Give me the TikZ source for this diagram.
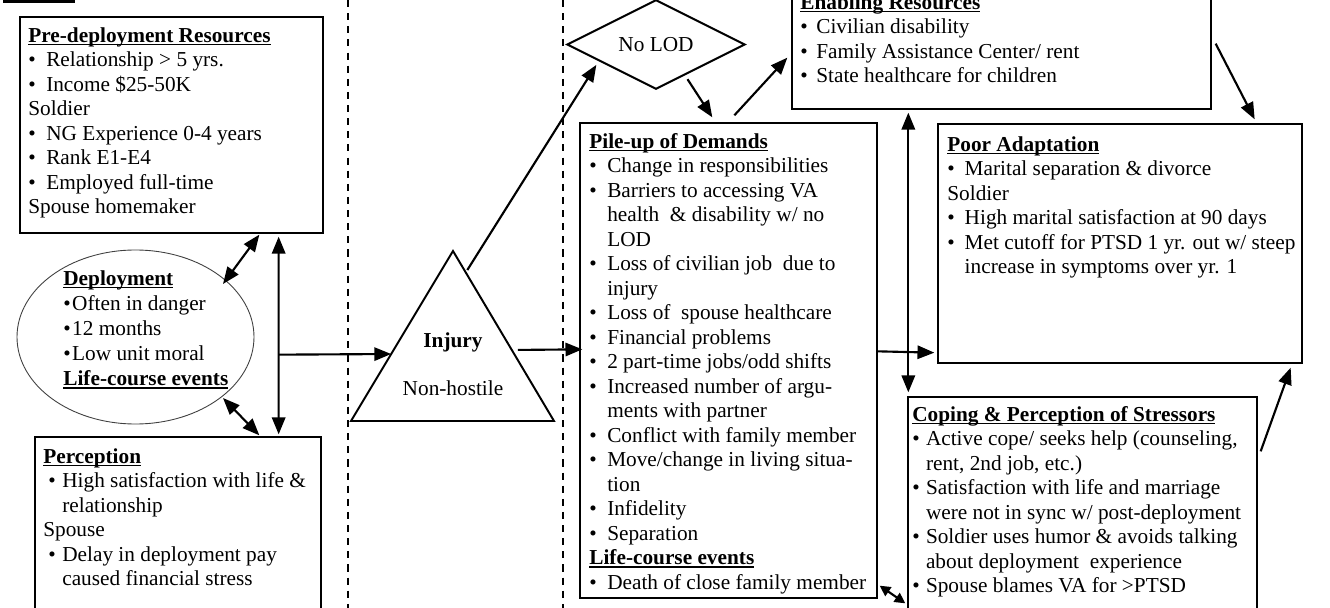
\documentclass[tikz,border=0pt]{standalone}
\usepackage{fontspec}
\setmainfont{Liberation Serif}
\usetikzlibrary{arrows.meta,shapes.geometric,fit,calc}
\newcommand\ttl[1]{\setbox0\hbox{\bfseries #1}\rlap{\rule[-1.7pt]{\wd0}{0.8pt}}\box0}
\newcommand\bul[1]{\makebox[#1][l]{\textbullet}}
\begin{document}
\begin{tikzpicture}[x=0.5637pt,y=-0.5637pt,
  box/.style={draw,line width=0.75pt,inner sep=0pt,fit={#1}},
  txt/.style={anchor=north west,inner sep=0pt,align=left,font=\fontsize{12pt}{13.8pt}\selectfont},
  lbl/.style={inner sep=0pt,font=\fontsize{12pt}{13.8pt}\selectfont},
  arr/.style={line width=1.2pt,-{Triangle[length=9.5pt,width=7.5pt]}},
  darr/.style={line width=1.2pt,{Triangle[length=9.5pt,width=7.5pt]}-{Triangle[length=9.5pt,width=7.5pt]}},
  sdarr/.style={line width=1.2pt,{Triangle[length=6pt,width=6pt]}-{Triangle[length=6pt,width=6pt]}},
  sep/.style={line width=0.8pt,dash pattern=on 4pt off 3.4pt}]
\useasboundingbox (0,0) rectangle (1330,608);
\clip (0,0) rectangle (1330,608);

% cut-off underline at top left
\draw[line width=1.5pt] (3,1.3) -- (75,1.3);

% dashed separators
\draw[sep] (348,0) -- (348,608);
\draw[sep] (563,0) -- (563,608);

% boxes
\node[box={(20,17) (323,233)}] (pre) {};
\node[box={(35,437) (321,625)}] (perc) {};
\node[box={(580,123) (877,598)}] (pile) {};
\node[box={(792,-15) (1211,109)}] (enab) {};
\node[box={(938,124) (1302,363)}] (poor) {};
\node[box={(908,397) (1257,625)}] (cope) {};
\node[draw=black!75,line width=0.5pt,ellipse,inner sep=0pt,minimum width={237*0.5637pt},minimum height={174*0.5637pt}] (dep) at (135.5,337) {};

% diamond
\node[draw,diamond,line width=1.1pt,inner sep=0pt,minimum width={178*0.5637pt},minimum height={89*0.5637pt},font=\fontsize{12pt}{13.8pt}\selectfont] (nolod) at (656,44.5) {No LOD};

% triangle
\coordinate (tA) at (453,251);
\coordinate (tL) at (351,421);
\coordinate (tR) at (554,421);
\draw[line width=1.1pt,line join=miter] (tA) -- (tL) -- (tR) -- cycle;
\node[lbl,anchor=base,font=\fontsize{12pt}{13.8pt}\selectfont\bfseries] (injT) at (453,347) {Injury};
\node[lbl,anchor=base] (nhT) at (453,395) {Non-hostile};

% texts
\node[txt] (preT) at (28,27) {\ttl{Pre-deployment Resources}\\
\bul{10.1pt}Relationship > 5 yrs.\\
\bul{10.1pt}Income \$25-50K\\
Soldier\\
\bul{10.1pt}NG Experience 0-4 years\\
\bul{10.1pt}Rank E1-E4\\
\bul{10.1pt}Employed full-time\\
Spouse homemaker};

\node[txt] (depT) at (63,270) {\ttl{Deployment}\\[0.4pt]
\bul{5pt}Often in danger\\[0.4pt]
\bul{5pt}12 months\\[0.4pt]
\bul{5pt}Low unit moral\\[0.4pt]
\ttl{Life-course events}};

\node[txt] (percT) at (43,448) {\ttl{Perception}\\
\hspace*{2.8pt}\bul{7.9pt}High satisfaction with life \&\\
\hspace*{10.7pt}relationship\\
Spouse\\
\hspace*{2.8pt}\bul{7.9pt}Delay in deployment pay\\
\hspace*{10.7pt}caused financial stress};

\node[txt] (pileT) at (589,133) {\ttl{Pile-up of Demands}\\
\bul{10.1pt}Change in responsibilities\\
\bul{10.1pt}Barriers to accessing VA\\
\hspace*{10.1pt}health\ \ \& disability w/ no\\
\hspace*{10.1pt}LOD\\
\bul{10.1pt}Loss of civilian job\ \ due to\\
\hspace*{10.1pt}injury\\
\bul{10.1pt}Loss of\ \ spouse healthcare\\
\bul{10.1pt}Financial problems\\
\bul{10.1pt}2 part-time jobs/odd shifts\\
\bul{10.1pt}Increased number of argu-\\
\hspace*{10.1pt}ments with partner\\
\bul{10.1pt}Conflict with family member\\
\bul{10.1pt}Move/change in living situa-\\
\hspace*{10.1pt}tion\\
\bul{10.1pt}Infidelity\\
\bul{10.1pt}Separation\\
\ttl{Life-course events}\\
\bul{10.1pt}Death of close family member};

\node[txt] (enabT) at (800,-6) {\ttl{Enabling Resources}\\
\bul{9pt}Civilian disability\\
\bul{9pt}Family Assistance Center/ rent\\
\bul{9pt}State healthcare for children};

\node[txt] (poorT) at (947,136) {\ttl{Poor Adaptation}\\
\bul{9.8pt}Marital separation \& divorce\\
Soldier\\
\bul{9.8pt}High marital satisfaction at 90 days\\
\bul{9.8pt}Met cutoff for PTSD 1 yr. out w/ steep\\
\hspace*{9.8pt}increase in symptoms over yr. 1};

\node[txt] (copeT) at (912,406) {\ttl{Coping \& Perception of Stressors}\\
\bul{7.7pt}Active cope/ seeks help (counseling,\\
\hspace*{7.7pt}rent, 2nd job, etc.)\\
\bul{7.7pt}Satisfaction with life and marriage\\
\hspace*{7.7pt}were not in sync w/ post-deployment\\
\bul{7.7pt}Soldier uses humor \& avoids talking\\
\hspace*{7.7pt}about deployment\ \ experience\\
\bul{7.7pt}Spouse blames VA for >PTSD};

% connectors
\draw[darr] ($(pre.south west)+(240,1)$) -- ($(dep.center)+(87.5,-53)$);
\draw[darr] ($(pre.south east)+(-45,3)$) -- ($(perc.north east)+(-43,-2)$);
\draw[darr] ($(dep.center)+(87.5,61)$) -- ($(perc.north west)+(225,-1)$);
\coordinate (vj) at ($(pre.south east)+(-45,121)$);
\coordinate (inL) at ($(tA)!0.606!(tL)$);
\draw[arr] (vj) -- (inL);
\draw[arr] ($(tA)!0.582!(tR)+(6,0)$) -- ($(pile.north west)+(3,227)$);
\draw[arr] ($(tA)!0.112!(tR)+(3,0)$) -- ($(nolod.west)!0.337!(nolod.south)+(0,5)$);
\draw[arr] ($(nolod.south)!0.35!(nolod.east)+(0,5)$) -- ($(pile.north west)+(133,-5)$);
\draw[arr] ($(pile.north west)+(155,-7)$) -- ($(enab.south west)+(-4,-52)$);
\draw[darr] ($(enab.south west)+(117,3)$) -- ($(cope.north west)+(1,-4)$);
\draw[arr] ($(pile.north east)+(0,229)$) -- ($(poor.south west)+(-3,-11)$);
\draw[arr] ($(enab.south east)+(4,-66)$) -- ($(poor.north east)+(-48,-4)$);
\draw[arr] ($(cope.north east)+(3,55)$) -- ($(poor.south east)+(-12,4)$);
\draw[sdarr] ($(pile.south east)+(2,-13)$) -- ($(cope.north west)+(-2,207)$);
\end{tikzpicture}
\end{document}
